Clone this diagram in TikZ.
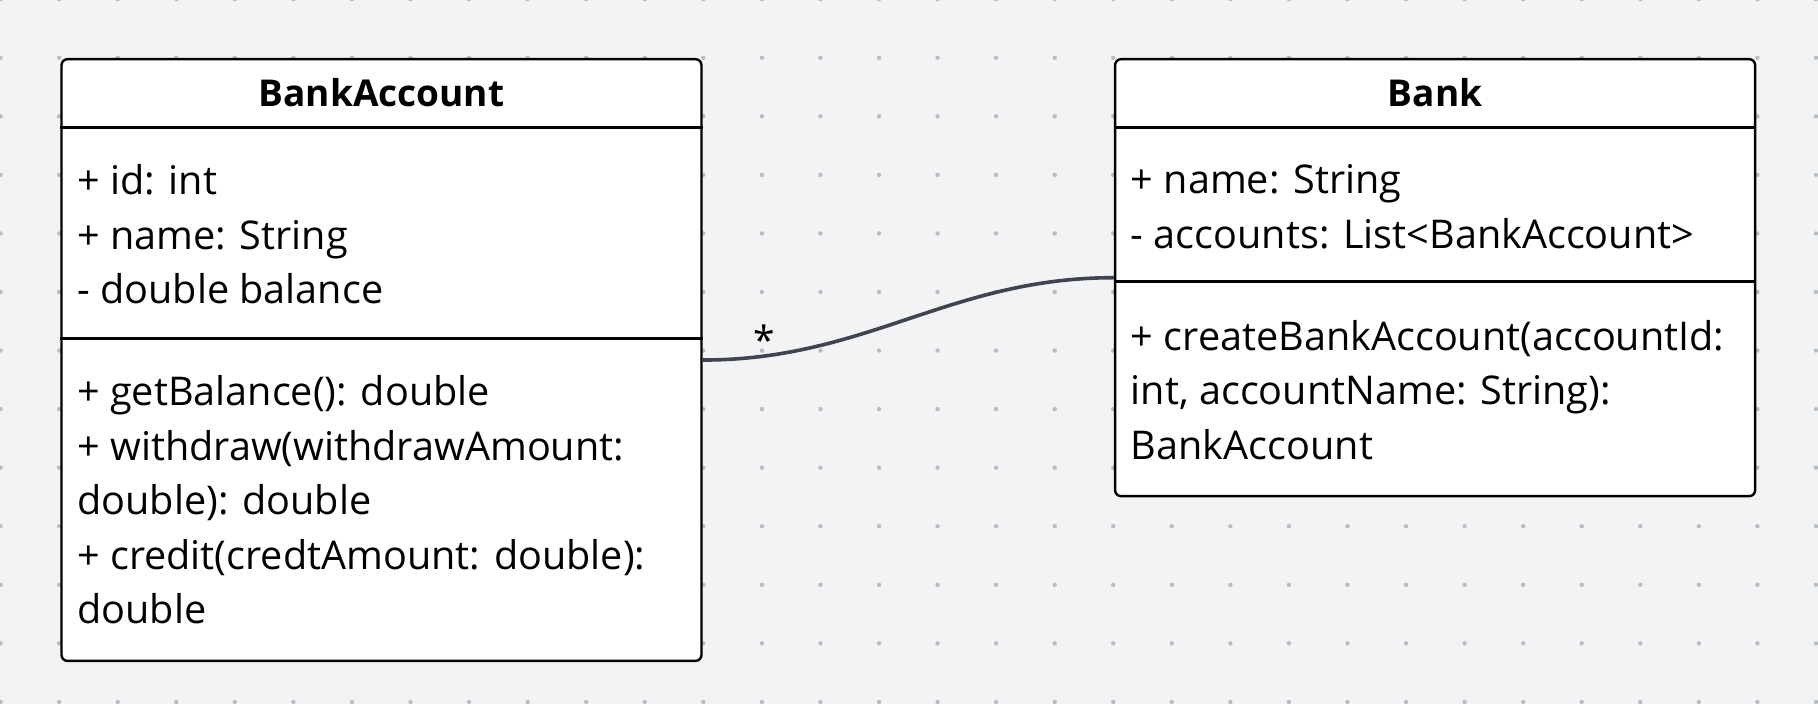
\documentclass[tikz,border=0pt]{standalone}
\usepackage{fontspec}
\setmainfont{Open Sans}
\usetikzlibrary{positioning}
\definecolor{canvas}{RGB}{242, 243, 245}
\definecolor{griddot}{RGB}{185, 188, 192}
\definecolor{link}{RGB}{63, 69, 80}

\begin{document}
\begin{tikzpicture}[
    x=1pt, y=-1pt,
    classbox/.style={rectangle, draw, fill=white, line width=1.2pt, rounded corners=3pt, minimum width=320pt},
    classname/.style={font=\fontsize{18.5}{22}\selectfont\bfseries},
    members/.style={anchor=west, align=left, inner sep=0pt, font=\fontsize{19.8}{27.25}\selectfont},
    rule/.style={line width=1.2pt},
    assoc/.style={line width=1.8pt, draw=link}
]
    \useasboundingbox (0,0) rectangle (909,352);
    \fill[canvas] (0,0) rectangle (909,352);
    \foreach \i in {0,...,31}
        \foreach \j in {0,...,12}
            \fill[griddot] (\i*29.28+0.3, \j*29.28-0.4) circle (1.1pt);

    \node[classbox, minimum height=300.85pt, anchor=north west] (account) at (30.15,29) {};
    \node[classbox, minimum height=218.5pt, right=205.6pt of account.north east, anchor=north west] (bank) {};

    \node[classname] (account-name) at ([yshift=-17.4pt]account.north) {BankAccount};
    \node[classname] (bank-name) at ([yshift=-17.4pt]bank.north) {Bank};

    \draw[rule] ([yshift=-34.75pt]account.north west) -- ([yshift=-34.75pt]account.north east);
    \draw[rule] ([yshift=-140.25pt]account.north west) -- ([yshift=-140.25pt]account.north east);
    \draw[rule] ([yshift=-34.75pt]bank.north west) -- ([yshift=-34.75pt]bank.north east);
    \draw[rule] ([yshift=-111.85pt]bank.north west) -- ([yshift=-111.85pt]bank.north east);

    \node[members] (account-attrs) at ([xshift=8.3pt, yshift=-88.1pt]account.north west) {+ id: int\\+ name: String\\- double balance};
    \node[members] (account-ops) at ([xshift=8.3pt, yshift=-220.85pt]account.north west) {+ getBalance(): double\\+ withdraw(withdrawAmount:\\double): double\\+ credit(credtAmount: double):\\double};
    \node[members] (bank-attrs) at ([xshift=8.3pt, yshift=-74.5pt]bank.north west) {+ name: String\\- accounts: List<BankAccount>};
    \node[members] (bank-ops) at ([xshift=8.3pt, yshift=-165.9pt]bank.north west) {+ createBankAccount(accountId:\\int, accountName: String):\\BankAccount};

    \draw[assoc] (account.east) to[out=0, in=180] (bank.west);
    \node[font=\fontsize{19.5}{22}\selectfont] (many) at ([xshift=30.7pt, yshift=10pt]account.east) {*};
\end{tikzpicture}
\end{document}
